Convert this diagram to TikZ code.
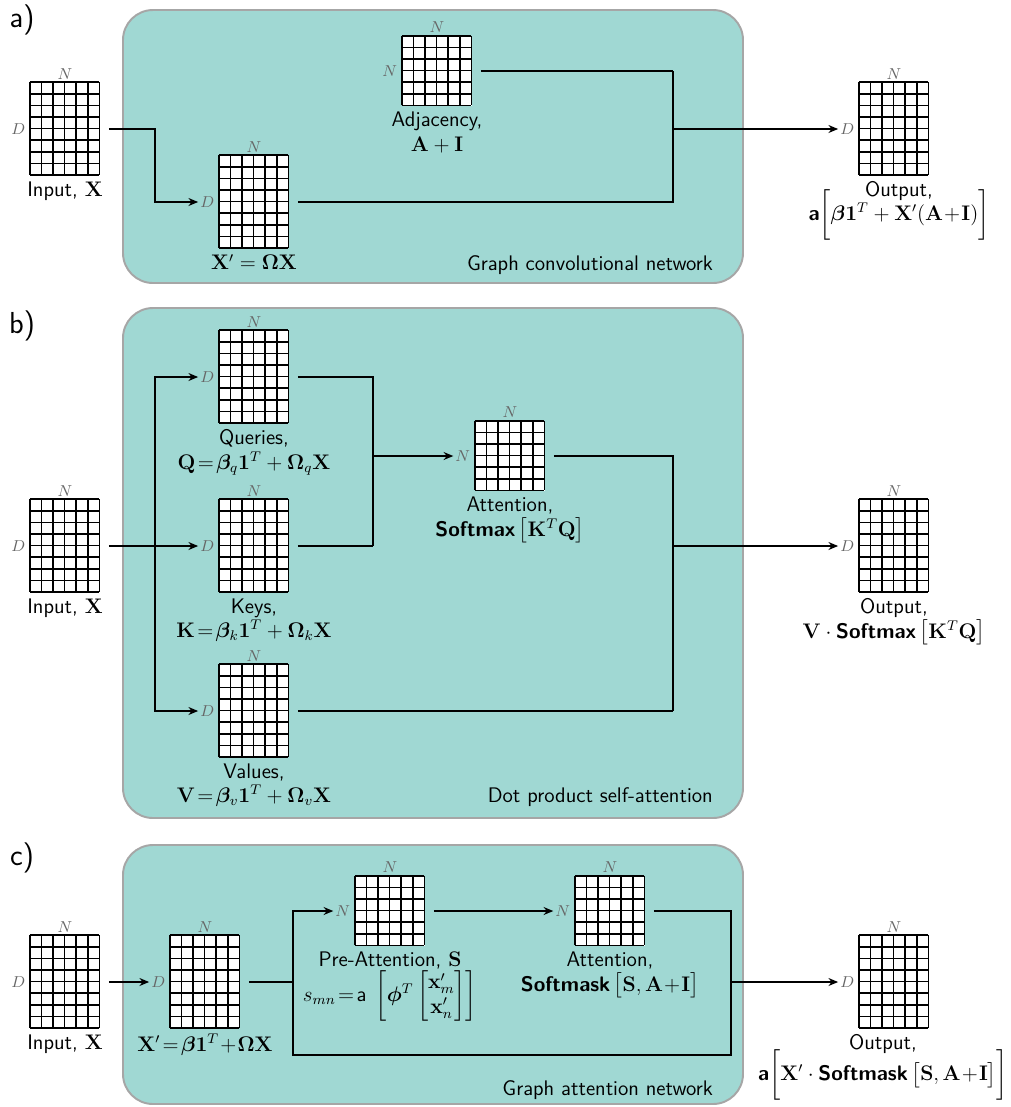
\documentclass[tikz,border=0pt]{standalone}
\usepackage{amsmath,amssymb}
\usepackage{bm}
\usepackage{xcolor}
\usepackage{tikz}
\usetikzlibrary{arrows.meta,positioning}
\definecolor{panelc}{RGB}{160,216,211}
\tikzset{
  pnl/.style={fill=panelc,draw=black!35,line width=1.1pt,rounded corners=0.6cm},
  mat/.style={fill=white,inner sep=0pt,minimum width=6*0.232cm},
  gln/.style={line width=0.9pt},
  dim/.style={font=\small,text=black!60,inner sep=1pt},
  lbl/.style={font=\sffamily\large,align=center,inner sep=1pt},
  ln/.style={line width=1pt},
  arr/.style={ln,-{Stealth[length=5.5pt,width=4.5pt]}},
  frm/.style={shorten <=5pt},
  tag/.style={font=\sffamily\LARGE},
  ttl/.style={font=\sffamily\large,anchor=east}
}
\newcommand{\mtx}[4]{%
  \node[mat,minimum height=#3*0.232cm] (#1) at (#2) {};
  \begin{scope}[shift={(#1.north west)}]
    \foreach \k in {0,...,6} \draw[gln] (\k*11.6,0) -- ++(0,#3*11.6);
    \foreach \k in {0,...,#3} \draw[gln] (0,\k*11.6) -- ++(69.6,0);
  \end{scope}
  \node[dim,above=0.5pt of #1] (#1N) {$N$};
  \node[dim,left=1.5pt of #1] (#1L) {$#4$};
}
\newcommand{\sm}{\textsf{\textbf{Softmax}}}
\newcommand{\sk}{\textsf{\textbf{Softmask}}}

\begin{document}
\begin{tikzpicture}[x=0.02cm,y=-0.02cm]
\useasboundingbox (0,0) rectangle (1011,1107);

% panels
\draw[pnl] (123,10) rectangle (743,283);
\draw[pnl] (123,308) rectangle (743,818);
\draw[pnl] (123,845) rectangle (743,1104);
\node[tag] (ta) at (22,20) {a)};
\node[tag] (tb) at (22,326) {b)};
\node[tag] (tc) at (22,858) {c)};
\node[ttl] (tta) at (719,265) {Graph convolutional network};
\node[ttl] (ttb) at (719,797) {Dot product self-attention};
\node[ttl] (ttc) at (719,1090) {Graph attention network};

% a) graph convolutional network
\mtx{ina}{65,129}{8}{D}
\mtx{adj}{437,71}{6}{N}
\mtx{xpa}{254,202}{8}{D}
\mtx{outa}{894,129}{8}{D}
\node[lbl,below=2pt of ina] (inaC) {Input, $\mathbf{X}$};
\node[lbl,below=2pt of adj] (adjC) {Adjacency,\\ $\mathbf{A}+\mathbf{I}$};
\node[lbl,below=2pt of xpa] (xpaC) {$\mathbf{X}'=\boldsymbol{\Omega}\mathbf{X}$};
\node[lbl,below=2pt of outa,xshift=0.1cm] (outaC) {Output,\\[-7pt] $\textsf{\textbf{a}}\biggl[\boldsymbol{\beta}\mathbf{1}^T+\mathbf{X}'(\mathbf{A}\!+\!\mathbf{I})\biggr]$};
\coordinate (ja) at (155,0);
\coordinate (jb) at (673,0);
\draw[arr,frm] (ina.east) -- (ina.east -| ja) |- (xpaL.west);
\draw[ln,frm] (xpa.east) -- (xpa.east -| jb) -- (adj.east -| jb);
\draw[ln,frm] (adj.east) -- (adj.east -| jb);
\draw[arr] (outaL.west -| jb) -- (outaL.west);

% b) dot product self-attention
\mtx{inb}{65,546}{8}{D}
\mtx{q}{254,377}{8}{D}
\mtx{k}{254,546}{8}{D}
\mtx{v}{254,711}{8}{D}
\mtx{att}{510,456}{6}{N}
\mtx{outb}{894,546}{8}{D}
\node[lbl,below=2pt of inb] (inbC) {Input, $\mathbf{X}$};
\node[lbl,below=2pt of q] (qC) {Queries,\\ $\mathbf{Q}\!=\!\boldsymbol{\beta}_q\mathbf{1}^T+\boldsymbol{\Omega}_q\mathbf{X}$};
\node[lbl,below=2pt of k] (kC) {Keys,\\ $\mathbf{K}\!=\!\boldsymbol{\beta}_k\mathbf{1}^T+\boldsymbol{\Omega}_k\mathbf{X}$};
\node[lbl,below=2pt of v] (vC) {Values,\\ $\mathbf{V}\!=\!\boldsymbol{\beta}_v\mathbf{1}^T+\boldsymbol{\Omega}_v\mathbf{X}$};
\node[lbl,below=2pt of att] (attC) {Attention,\\ \sm$\,\bigl[\mathbf{K}^T\mathbf{Q}\bigr]$};
\node[lbl,below=2pt of outb] (outbC) {Output,\\ $\mathbf{V}\cdot{}$\sm$\,\bigl[\mathbf{K}^T\mathbf{Q}\bigr]$};
\coordinate (jc) at (155,0);
\coordinate (jd) at (373,0);
\coordinate (je) at (673,0);
\draw[arr,frm] (inb.east) -- (kL.west);
\draw[arr] (inb.east -| jc) |- (qL.west);
\draw[arr] (inb.east -| jc) |- (vL.west);
\draw[ln,frm] (q.east) -- (q.east -| jd) -- (k.east -| jd);
\draw[ln,frm] (k.east) -- (k.east -| jd);
\draw[arr] (attL.west -| jd) -- (attL.west);
\draw[ln,frm] (att.east) -- (att.east -| je) -- (v.east -| je);
\draw[ln,frm] (v.east) -- (v.east -| je);
\draw[arr] (outbL.west -| je) -- (outbL.west);

% c) graph attention network
\mtx{inc}{65,982}{8}{D}
\mtx{xpc}{205,982}{8}{D}
\mtx{pre}{390,911}{6}{N}
\mtx{attc}{610,911}{6}{N}
\mtx{outc}{894,982}{8}{D}
\node[lbl,below=2pt of inc] (incC) {Input, $\mathbf{X}$};
\node[lbl,below=2pt of xpc] (xpcC) {$\mathbf{X}'\!=\!\boldsymbol{\beta}\mathbf{1}^T\!+\!\boldsymbol{\Omega}\mathbf{X}$};
\node[lbl,below=2pt of pre] (preC) {Pre-Attention, $\mathbf{S}$\\ $s_{mn}\!=\!\textsf{a}\;\left[\boldsymbol{\phi}^T\begin{bmatrix}\mathbf{x}'_m\\ \mathbf{x}'_n\end{bmatrix}\right]$};
\node[lbl,below=2pt of attc] (attcC) {Attention,\\ \sk$\,\bigl[\mathbf{S},\mathbf{A}\!+\!\mathbf{I}\bigr]$};
\node[lbl,below=2pt of outc,xshift=-0.22cm] (outcC) {Output,\\[-3pt] $\textsf{\textbf{a}}\biggl[\mathbf{X}'\cdot{}$\sk$\,\bigl[\mathbf{S},\mathbf{A}\!+\!\mathbf{I}\bigr]\biggr]$};
\coordinate (jf) at (293,0);
\coordinate (jg) at (731,0);
\coordinate (bot) at (0,1055);
\draw[arr,frm] (inc.east) -- (xpcL.west);
\draw[ln,frm] (xpc.east) -- (xpc.east -| jf);
\draw[arr,frm] (attc.east) -| (bot -| jg) -- (bot -| jf) |- (preL.west);
\draw[arr,frm] (pre.east) -- (attcL.west);
\draw[arr] (outcL.west -| jg) -- (outcL.west);
\end{tikzpicture}
\end{document}
